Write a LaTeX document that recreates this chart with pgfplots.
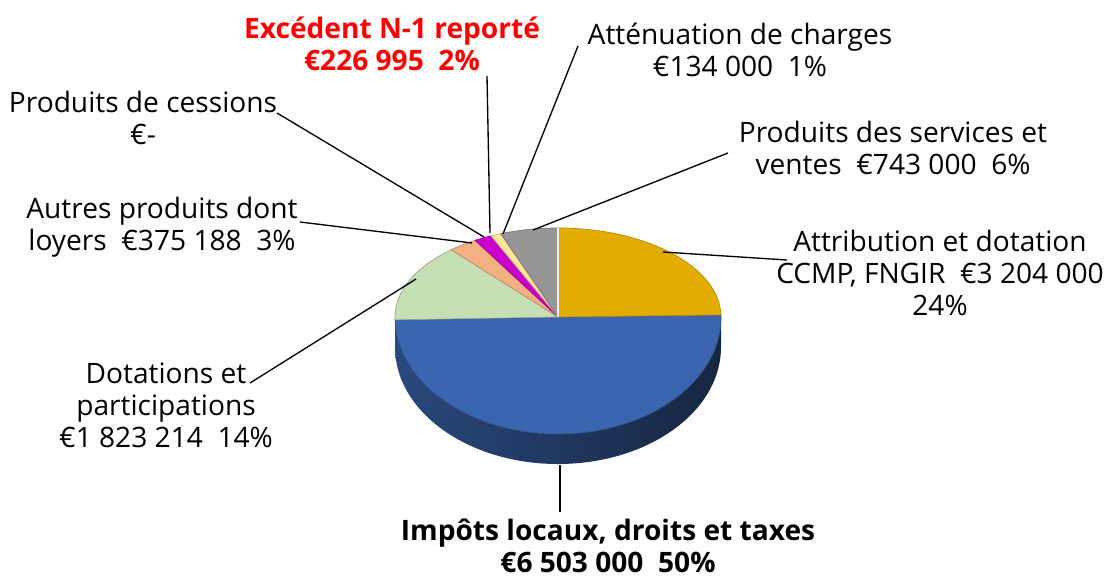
\documentclass[border=0pt]{standalone}
\usepackage{pgfplots}
\pgfplotsset{compat=1.18}
\usepackage{fontspec}
\setmainfont{Open Sans}
\definecolor{cgold}{HTML}{E2AC00}
\definecolor{cblue}{HTML}{3A64AD}
\definecolor{cgreen}{HTML}{C6DFB5}
\definecolor{csalmon}{HTML}{F3B183}
\definecolor{cmag}{HTML}{CC00CC}
\definecolor{cyel}{HTML}{FFE699}
\definecolor{cgray}{HTML}{969696}
% values in thousands of euros (clockwise from 12 o'clock)
\def\vA{3204}     % Attribution et dotation
\def\vB{6503}     % Impots locaux
\def\vC{1823.214} % Dotations et participations
\def\vD{375.188}  % Autres produits
\def\vE{0}        % Produits de cessions
\def\vF{226.995}  % Excedent N-1
\def\vG{134}      % Attenuation de charges
\def\vH{743}      % Produits des services
\pgfmathsetmacro\tot{\vA+\vB+\vC+\vD+\vE+\vF+\vG+\vH}
\pgfmathsetmacro\aA{90}
\pgfmathsetmacro\aB{\aA-\vA/\tot*360}
\pgfmathsetmacro\aC{\aB-\vB/\tot*360}
\pgfmathsetmacro\aD{\aC-\vC/\tot*360}
\pgfmathsetmacro\aE{\aD-\vD/\tot*360}
\pgfmathsetmacro\aF{\aE-\vE/\tot*360}
\pgfmathsetmacro\aG{\aF-\vF/\tot*360}
\pgfmathsetmacro\aH{\aG-\vG/\tot*360}
\pgfmathsetmacro\aI{\aH-\vH/\tot*360}
\newcommand\pieslice[3]{%
  \fill[#3,draw=#3!80!black,line width=0.2pt] (axis cs:558,317) -- (axis cs:{558+163*cos(#1)},{317-89*sin(#1)})
    arc[start angle=#1, end angle=#2, x radius=1.63cm, y radius=0.89cm] -- cycle;}
\tikzset{lbl/.style={font=\fontsize{8}{9.1}\selectfont, align=center, inner sep=0pt}}
\begin{document}
\begin{tikzpicture}
\useasboundingbox (0,0) rectangle (11.09cm,5.77cm);
\begin{axis}[
  at={(0,0)}, anchor=south west,
  scale only axis, width=11.09cm, height=5.77cm,
  xmin=0, xmax=1109, ymin=0, ymax=577, y dir=reverse,
  axis lines=none, clip=false,
]
% side wall
\shade[left color=cblue!72!black, middle color=cblue!45!black, right color=cblue!38!black]
  (axis cs:721,317) arc[start angle=0, end angle=-180, x radius=1.63cm, y radius=1.17cm]
  -- ++(0,-0.30cm) arc[start angle=-180, end angle=0, x radius=1.63cm, y radius=1.17cm] -- cycle;
% blue slice (top face)
\fill[cblue,draw=cblue!80!black,line width=0.2pt] (axis cs:558,317) -- (axis cs:{558+163*cos(\aB)},{317-89*sin(\aB)})
  arc[start angle=\aB, end angle=0, x radius=1.63cm, y radius=0.89cm]
  arc[start angle=0, end angle=\aC, x radius=1.63cm, y radius=1.17cm] -- cycle;
% green slice
\fill[cgreen,draw=cgreen!75!black,line width=0.2pt] (axis cs:558,317) -- (axis cs:{558+163*cos(\aC)},{317-117*sin(\aC)})
  arc[start angle=\aC, end angle=-180, x radius=1.63cm, y radius=1.17cm]
  arc[start angle=-180, end angle=\aD, x radius=1.63cm, y radius=0.89cm] -- cycle;
\pieslice{\aD}{\aE}{csalmon}
\pieslice{\aF}{\aG}{cmag}
\pieslice{\aG}{\aH}{cyel}
\pieslice{\aH}{\aI}{cgray}
\pieslice{\aA}{\aB}{cgold}
\draw[white!85!gray,line width=0.6pt] (axis cs:558,317) -- (axis cs:558,228);
% leader lines
\begin{scope}[line width=0.38pt]
\draw (axis cs:490,233) -- (axis cs:487,76);
\draw (axis cs:503,234) -- (axis cs:578,46);
\draw (axis cs:484,237) -- (axis cs:277,113);
\draw (axis cs:472,243) -- (axis cs:300,222);
\draw (axis cs:533,230) -- (axis cs:728,153);
\draw (axis cs:663,252) -- (axis cs:787,260);
\draw (axis cs:416,279) -- (axis cs:250,383);
\draw (axis cs:560,465) -- (axis cs:560,512);
\end{scope}
% labels
\node[lbl,text=red,font=\fontsize{8}{9.1}\selectfont\bfseries] at (axis cs:392,44) {Excédent N-1 reporté\\€226 995\ \ 2\%};
\node[lbl] at (axis cs:740,50) {Atténuation de charges\\€134 000\ \ 1\%};
\node[lbl] at (axis cs:143,118) {Produits de cessions\\€-};
\node[lbl] at (axis cs:893,148) {Produits des services et\\ventes\ \ €743 000\ \ 6\%};
\node[lbl] at (axis cs:162,227) {Autres produits dont\\loyers\ \ €375 188\ \ 3\%};
\node[lbl] at (axis cs:940,273) {Attribution et dotation\\CCMP, FNGIR\ \ €3 204 000\\24\%};
\node[lbl] at (axis cs:166,405) {Dotations et\\participations\\€1 823 214\ \ 14\%};
\node[lbl,font=\fontsize{8}{9.1}\selectfont\bfseries] at (axis cs:608,546) {Impôts locaux, droits et taxes\\€6 503 000\ \ 50\%};
\end{axis}
\end{tikzpicture}
\end{document}
